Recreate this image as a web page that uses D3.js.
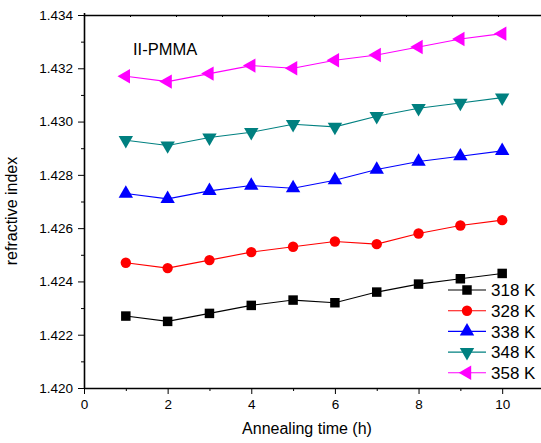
<!DOCTYPE html>
<html>
<head>
<meta charset="utf-8">
<script src="https://cdn.jsdelivr.net/npm/d3@7"></script>
<style>
  body { margin: 0; background: #fff; }
  svg { font-family: "Liberation Sans", Arial, sans-serif; }
  .axis path, .axis line { stroke: #000; }
  .axis text { font-size: 13.5px; fill: #000; }
</style>
</head>
<body>
<svg width="541" height="443"></svg>
<script>
// annealing time (h)
let times = [1, 2, 3, 4, 5, 6, 7, 8, 9, 10];
let temps = ["318 K", "328 K", "338 K", "348 K", "358 K"];
let n318 = [1.4227, 1.4225, 1.4228, 1.4231, 1.4233, 1.4232, 1.4236, 1.4239, 1.4241, 1.4243];
let n328 = [1.4247, 1.4245, 1.4248, 1.4251, 1.4253, 1.4255, 1.4254, 1.4258, 1.4261, 1.4263];
let n338 = [1.4273, 1.4271, 1.4274, 1.4276, 1.4275, 1.4278, 1.4282, 1.4285, 1.4287, 1.4289];
let n348 = [1.4293, 1.4291, 1.4294, 1.4296, 1.4299, 1.4298, 1.4302, 1.4305, 1.4307, 1.4309];
let n358 = [1.4317, 1.4315, 1.4318, 1.4321, 1.4320, 1.4323, 1.4325, 1.4328, 1.4331, 1.4333];
let colors = ["#000000", "#ff0000", "#0000ff", "#008080", "#ff00ff"];
let shapes = ["square", "circle", "up", "down", "left"];
let xTicks = [0, 2, 4, 6, 8, 10];
let yTicks = [1.420, 1.422, 1.424, 1.426, 1.428, 1.430, 1.432, 1.434];

function drawGraph()
{
  let svg = d3.select("svg"),
    margin = { top: 15, right: 0, bottom: 55, left: 84 },
    height = svg.attr("height") - margin.top - margin.bottom,
    width = 460,
    g = svg.append("g").attr("transform", "translate(" + margin.left + "," + margin.top + ")");

  let x = d3.scaleLinear().domain([0, 11]).range([0, width]),
    y = d3.scaleLinear().domain([1.420, 1.434]).range([height, 0]);

  let series = temps.map((t, i) => ({
    id: t,
    color: colors[i],
    shape: shapes[i],
    values: [n318, n328, n338, n348, n358][i].map((v, j) => ({ t: times[j], n: v }))
  }));

  // minor ticks
  g.append("g")
    .attr("class", "axis")
    .attr("transform", "translate(0," + height + ")")
    .call(d3.axisBottom(x).tickValues([1, 3, 5, 7, 9]).tickSize(3).tickFormat(""))
    .call(a => a.select(".domain").remove());
  g.append("g")
    .attr("class", "axis")
    .call(d3.axisLeft(y).tickValues([1.421, 1.423, 1.425, 1.427, 1.429, 1.431, 1.433]).tickSize(3).tickFormat(""))
    .call(a => a.select(".domain").remove());

  // top frame with faint ticks
  g.append("g")
    .attr("class", "axis")
    .call(d3.axisTop(x).tickValues(d3.range(0, 11.01, 1.1)).tickSize(2).tickFormat(""))
    .call(a => a.selectAll(".tick line").attr("stroke", "#bbb").attr("transform", "translate(0,2)"))
    .call(a => a.select(".domain").attr("stroke-width", 1.6));

  g.append("g")
    .attr("class", "axis")
    .attr("transform", "translate(0," + height + ")")
    .call(d3.axisBottom(x).tickValues(xTicks).tickSize(6).tickSizeOuter(0).tickPadding(5).tickFormat(d3.format("d")))
    .call(a => a.select(".domain").attr("stroke-width", 1.6));

  g.append("g")
    .attr("class", "axis")
    .call(d3.axisLeft(y).tickValues(yTicks).tickSize(6).tickSizeOuter(0).tickPadding(5).tickFormat(d3.format(".3f")))
    .call(a => a.select(".domain").attr("stroke-width", 1.6));

  svg.append("text")
    .attr("transform", "rotate(-90)")
    .attr("x", -211)
    .attr("y", 17)
    .attr("text-anchor", "middle")
    .style("font-size", "16px")
    .text("refractive index");

  svg.append("text")
    .attr("x", 307)
    .attr("y", 434)
    .attr("text-anchor", "middle")
    .style("font-size", "16px")
    .text("Annealing time (h)");

  svg.append("text")
    .attr("x", 133)
    .attr("y", 55)
    .style("font-size", "16.5px")
    .text("II-PMMA");

  let line = d3.line()
    .x(d => x(d.t))
    .y(d => y(d.n));

  let sym = {
    square: d3.symbol().type(d3.symbolSquare).size(90),
    circle: d3.symbol().type(d3.symbolCircle).size(85),
    up: d3.symbol().type(d3.symbolTriangle).size(90),
    down: d3.symbol().type(d3.symbolTriangle).size(90),
    left: d3.symbol().type(d3.symbolTriangle).size(90)
  };
  let rot = { square: 0, circle: 0, up: 0, down: 180, left: -90 };

  let mode = g.selectAll(".mode")
    .data(series)
    .enter().append("g")
    .attr("class", "mode");

  mode.append("path")
    .attr("d", d => line(d.values))
    .attr("fill", "none")
    .attr("stroke", d => d.color)
    .attr("stroke-width", 1.1);

  mode.each(function (s) {
    d3.select(this).selectAll(".pt")
      .data(s.values)
      .enter().append("path")
      .attr("class", "pt")
      .attr("d", sym[s.shape]())
      .attr("fill", s.color)
      .attr("transform", d => "translate(" + x(d.t) + "," + y(d.n) + ") rotate(" + rot[s.shape] + ")");
  });

  // legend
  let legend = svg.append("g").attr("transform", "translate(448,290)");
  let item = legend.selectAll(".item")
    .data(series)
    .enter().append("g")
    .attr("class", "item")
    .attr("transform", (d, i) => "translate(0," + i * 20.7 + ")");
  item.append("line")
    .attr("x1", 0).attr("x2", 38)
    .attr("stroke", d => d.color)
    .attr("stroke-width", 1.1);
  item.append("path")
    .attr("d", d => sym[d.shape]())
    .attr("fill", d => d.color)
    .attr("transform", d => "translate(19,0) rotate(" + rot[d.shape] + ")");
  item.append("text")
    .attr("x", 43)
    .attr("dy", "0.36em")
    .style("font-size", "17px")
    .text(d => d.id);
}

drawGraph();
</script>
</body>
</html>
